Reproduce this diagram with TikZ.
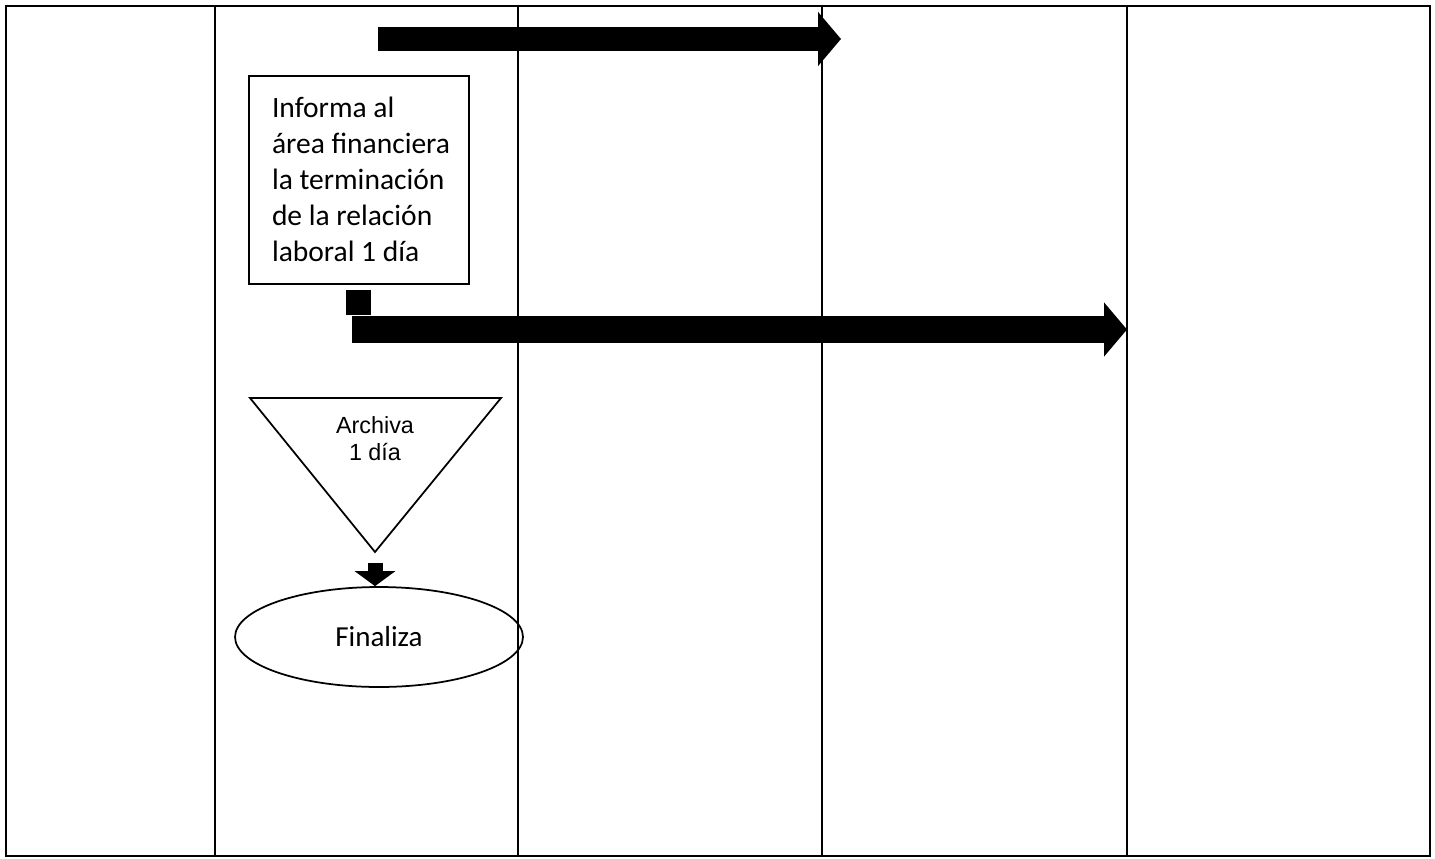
\documentclass[tikz,border=0pt]{standalone}
\usepackage{fontspec}
\setmainfont{Carlito}
\newfontfamily\arialfont{Liberation Sans}
\usetikzlibrary{positioning,arrows.meta}
\usetikzlibrary{shapes.geometric}

\begin{document}
\begin{tikzpicture}[
        x=0.02cm, y=-0.02cm,
        node distance=0.1cm,
        lane/.style={line width=0.042cm},
        taskbox/.style={draw, line width=0.04cm, inner xsep=0pt, inner ysep=0.42cm},
        connsq/.style={fill=black, inner sep=0pt, minimum size=0.5cm},
        endnode/.style={ellipse, draw, line width=0.035cm, minimum width=5.76cm, minimum height=2cm},
        bigarrow/.style={line width=#1, -{Triangle[length=0.46cm, width=1.06cm]}},
        smallarrow/.style={line width=0.3cm, -{Triangle[length=0.3cm, width=0.8cm]}}
    ]
      \useasboundingbox (0,0) rectangle (1435,858);

      % swimlanes
      \draw[lane] (6,6) rectangle (1430,856);
      \foreach \x in {215,518,822,1127}
        \draw[lane] (\x,6) -- (\x,856);

      % activity
      \node[taskbox, anchor=north west] (informa) at (248,75)
        {\parbox[c][3.32cm][t]{4.4cm}{\fontsize{16.8pt}{20.5pt}\selectfont\raggedright\leftskip=0.46cm
          Informa al\\ área financiera\\ la terminación\\ de la relación\\ laboral 1 día}};
      \node[connsq, below=of informa] (conn) {};

      \coordinate (a1s) at (378,39);
      \coordinate (a1e) at (841,39);
      \coordinate (a2s) at (352,329.5);
      \coordinate (a2e) at (1127,329.5);
      \draw[bigarrow=0.48cm] (a1s) -- (a1e);
      \draw[bigarrow=0.54cm] (a2s) -- (a2e);

      % archive
      \coordinate (tl) at (250,398);
      \coordinate (tr) at (501,398);
      \coordinate (apex) at (375,552);
      \draw[line width=0.035cm] (tl) -- (tr) -- (apex) -- cycle;
      \node[align=center, font=\arialfont\fontsize{13.3pt}{15.5pt}\selectfont] (archiva) at (375,439) {Archiva\\1 día};

      \node[endnode, font=\fontsize{16.5pt}{19pt}\selectfont] (finaliza) at (379,637) {Finaliza};
      \draw[smallarrow] ([yshift=-0.22cm]apex) -- (apex |- finaliza.north);
    \end{tikzpicture}
\end{document}
